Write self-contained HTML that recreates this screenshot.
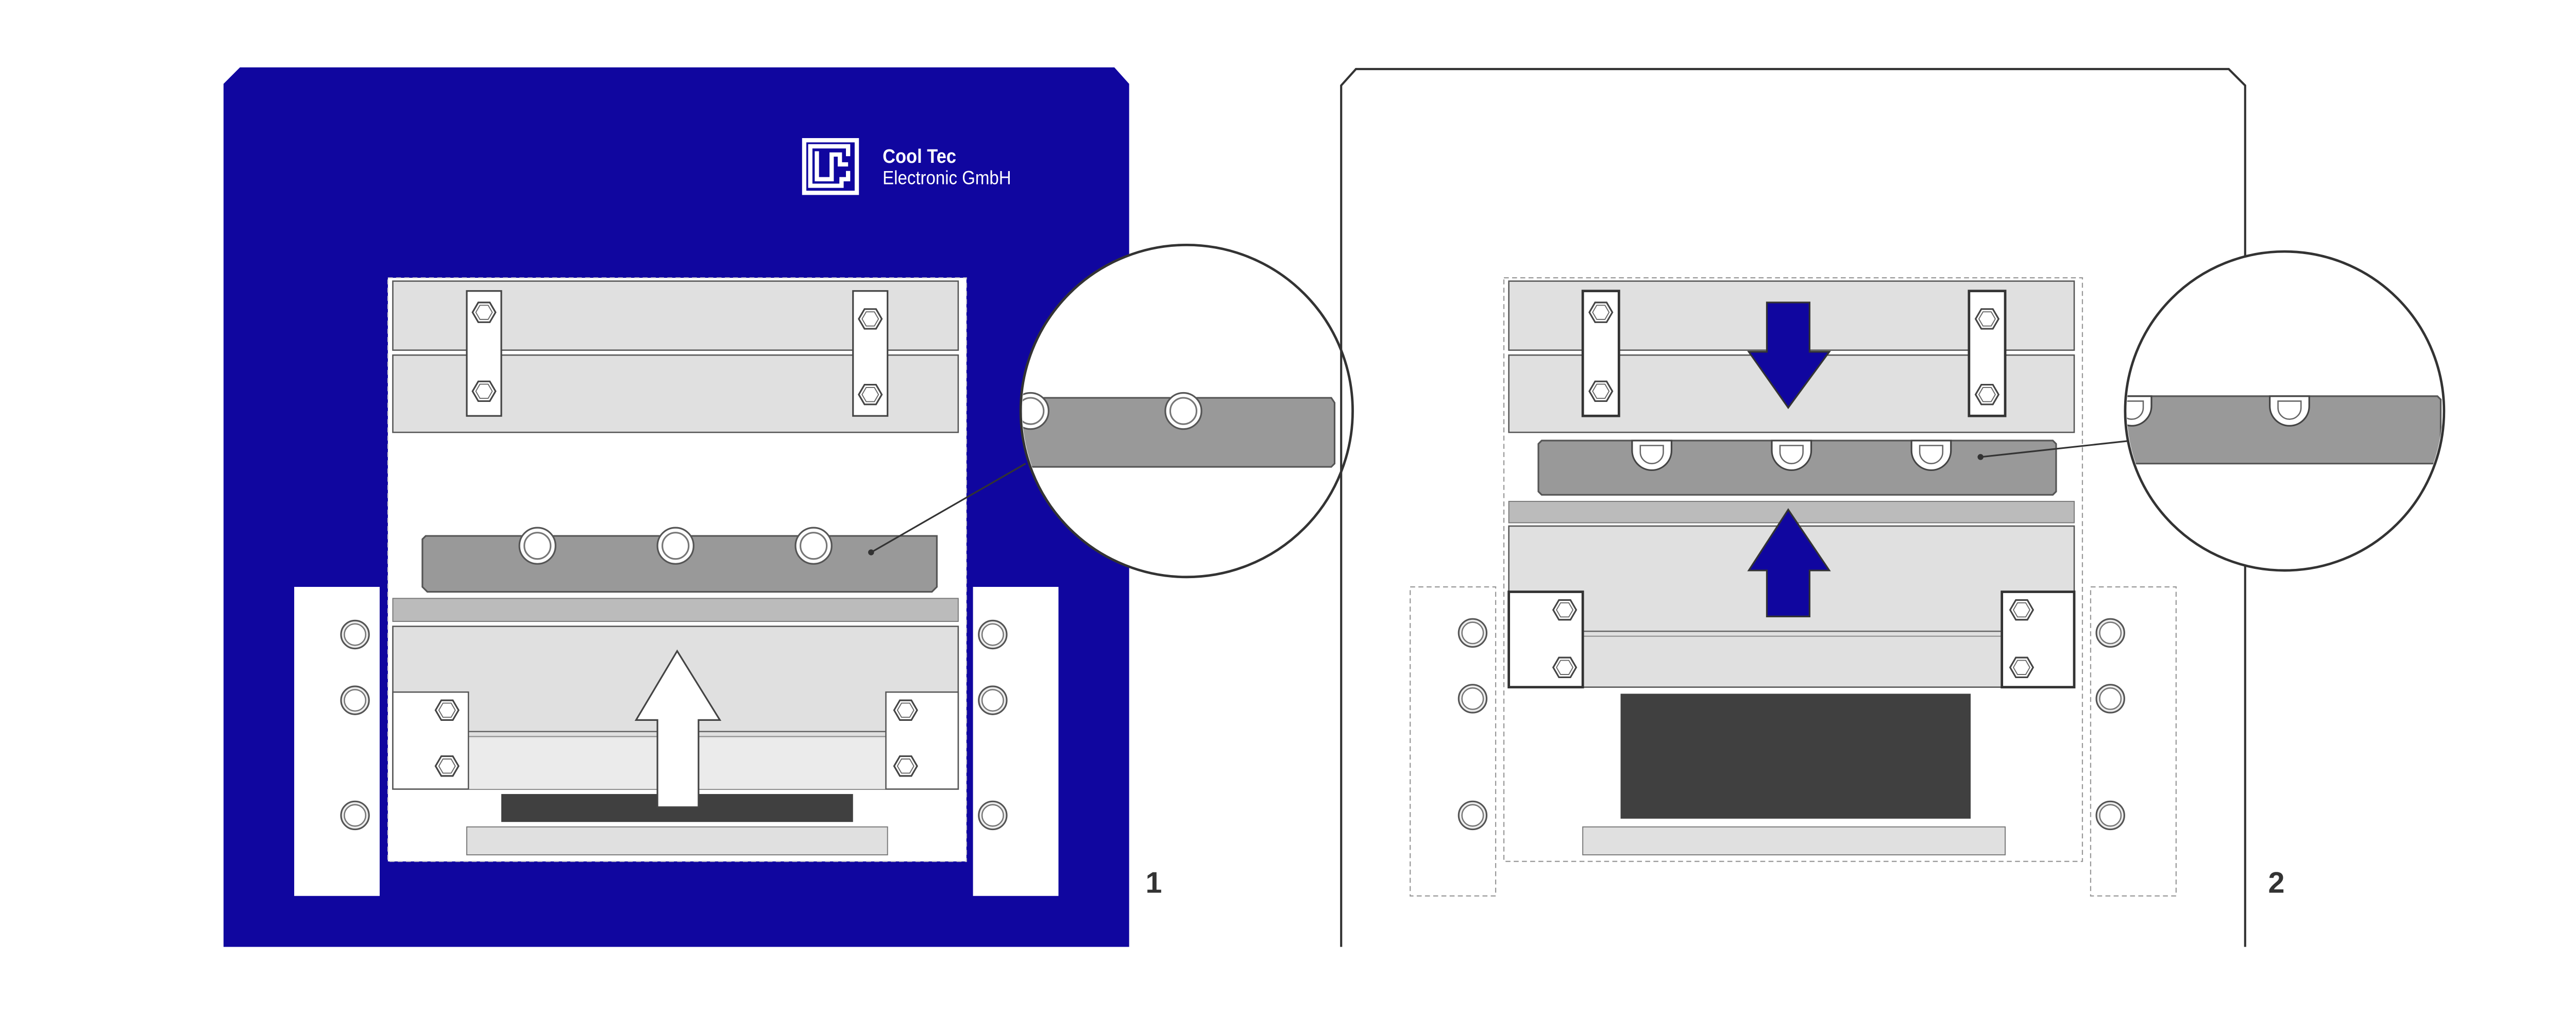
<!DOCTYPE html>
<html><head><meta charset="utf-8"><style>html,body{margin:0;padding:0;background:#fff}svg{display:block}</style></head>
<body>
<svg width="5200" height="1964" viewBox="0 0 1630 615.6" preserveAspectRatio="none" xmlns="http://www.w3.org/2000/svg">
<defs>
<g id="hex"><polygon points="-7,0 -3.5,-6 3.5,-6 7,0 3.5,6 -3.5,6" fill="#fff" stroke="#444" stroke-width="1"/><polygon points="-5,0 -2.5,-4.3 2.5,-4.3 5,0 2.5,4.3 -2.5,4.3" fill="none" stroke="#666" stroke-width="0.6"/></g>
<g id="nut"><circle r="8.5" fill="#eee" stroke="#555" stroke-width="1"/><circle r="6.5" fill="#fff" stroke="#777" stroke-width="0.8"/></g>
<g id="ring"><circle r="11" fill="#fff" stroke="#555" stroke-width="1"/><circle r="8" fill="#fff" stroke="#777" stroke-width="1"/></g>
<g id="ushape"><path d="M-12,0 v6 a12,12 0 0 0 24,0 v-6 z" fill="#fff" stroke="#444" stroke-width="1"/><path d="M-7,3 v4 a7,7 0 0 0 14,0 v-4 z" fill="none" stroke="#666" stroke-width="0.8"/></g>
</defs>

<!-- PANEL 1 -->
<path d="M146,41 L678,41 L687,51 L687,576 L136,576 L136,51 Z" fill="#10069f"/>
<!-- logo -->
<g fill="none" stroke="#fff" stroke-width="2.6">
<rect x="489.3" y="85.3" width="32" height="32"/>
<path d="M516,104 V109 H512 V113 H493 V89 H516 V95"/>
<path d="M497,92 V109 H506 V94 H511 V100 H516"/>
</g>
<text x="537" y="99" font-family="Liberation Sans, sans-serif" font-weight="bold" font-size="12" fill="#fff" transform="translate(537,0) scale(0.9,1) translate(-537,0)">Cool Tec</text>
<text x="537" y="112" font-family="Liberation Sans, sans-serif" font-size="11.5" fill="#fff" transform="translate(537,0) scale(0.9,1) translate(-537,0)">Electronic GmbH</text>

<rect x="236" y="169" width="352" height="355" fill="#fff" stroke="#ccc" stroke-width="0.6" stroke-dasharray="3,2"/>
<rect x="179" y="357" width="52" height="188" fill="#fff"/>
<rect x="592" y="357" width="52" height="188" fill="#fff"/>
<use href="#nut" x="216" y="386"/><use href="#nut" x="216" y="426"/><use href="#nut" x="216" y="496"/>
<use href="#nut" x="604" y="386"/><use href="#nut" x="604" y="426"/><use href="#nut" x="604" y="496"/>

<rect x="239" y="171" width="344" height="42" fill="#e0e0e0" stroke="#555" stroke-width="0.8"/>
<rect x="239" y="216" width="344" height="47" fill="#e0e0e0" stroke="#555" stroke-width="0.8"/>
<rect x="284" y="177" width="21" height="76" fill="#fff" stroke="#444" stroke-width="1"/>
<rect x="519" y="177" width="21" height="76" fill="#fff" stroke="#444" stroke-width="1"/>
<use href="#hex" x="294.5" y="190"/><use href="#hex" x="294.5" y="238"/>
<use href="#hex" x="529.5" y="194"/><use href="#hex" x="529.5" y="240"/>

<path d="M259,326 H570 V357 L567,360 H260 L257,357 V328 Z" fill="#999" stroke="#555" stroke-width="1"/>
<use href="#ring" x="327" y="332"/><use href="#ring" x="411" y="332"/><use href="#ring" x="495" y="332"/>
<line x1="530" y1="336" x2="624" y2="282" stroke="#333" stroke-width="1"/>
<circle cx="530" cy="336" r="1.8" fill="#333"/>

<rect x="239" y="364" width="344" height="14" fill="#bbb" stroke="#777" stroke-width="0.6"/>
<rect x="239" y="381" width="344" height="99" fill="#e0e0e0" stroke="#555" stroke-width="0.8"/>
<rect x="285" y="449" width="254" height="31" fill="#ebebeb"/>
<line x1="285" y1="445" x2="539" y2="445" stroke="#666" stroke-width="0.8"/>
<line x1="285" y1="448" x2="539" y2="448" stroke="#888" stroke-width="0.6"/>
<rect x="239" y="421" width="46" height="59" fill="#fff" stroke="#555" stroke-width="0.8"/>
<rect x="539" y="421" width="44" height="59" fill="#fff" stroke="#555" stroke-width="0.8"/>
<use href="#hex" x="272" y="432"/><use href="#hex" x="272" y="466"/>
<use href="#hex" x="551" y="432"/><use href="#hex" x="551" y="466"/>
<rect x="305" y="483" width="214" height="17" fill="#404040"/>
<path d="M400,491 V438 H387 L412,396 L438,438 H425 V491 Z" fill="#fff" stroke="#444" stroke-width="1"/>
<rect x="284" y="503" width="256" height="17" fill="#e0e0e0" stroke="#777" stroke-width="0.6"/>

<!-- circle 1 -->
<circle cx="722" cy="250" r="101" fill="#fff" stroke="#333" stroke-width="1.5"/>
<clipPath id="c1"><circle cx="722" cy="250" r="100"/></clipPath>
<g clip-path="url(#c1)">
<path d="M600,242 H810 L812,245 V282 L810,284 H600 Z" fill="#999" stroke="#555" stroke-width="1"/>
<use href="#ring" x="627" y="250"/>
<use href="#ring" x="720" y="250"/>
</g>
<text x="697" y="543" font-family="Liberation Sans, sans-serif" font-weight="bold" font-size="18" fill="#333">1</text>

<!-- PANEL 2 -->
<path d="M816,576 V52 L825,42 L1356,42 L1366,52 V576" fill="none" stroke="#333" stroke-width="1.3"/>
<rect x="915" y="169" width="352" height="355" fill="none" stroke="#999" stroke-width="0.7" stroke-dasharray="3,2"/>
<rect x="858" y="357" width="52" height="188" fill="none" stroke="#999" stroke-width="0.7" stroke-dasharray="3,2"/>
<rect x="1272" y="357" width="52" height="188" fill="none" stroke="#999" stroke-width="0.7" stroke-dasharray="3,2"/>
<use href="#nut" x="896" y="385"/><use href="#nut" x="896" y="425"/><use href="#nut" x="896" y="496"/>
<use href="#nut" x="1284" y="385"/><use href="#nut" x="1284" y="425"/><use href="#nut" x="1284" y="496"/>

<rect x="918" y="171" width="344" height="42" fill="#e0e0e0" stroke="#555" stroke-width="0.8"/>
<rect x="918" y="216" width="344" height="47" fill="#e0e0e0" stroke="#555" stroke-width="0.8"/>
<rect x="963" y="177" width="22" height="76" fill="#fff" stroke="#333" stroke-width="1.5"/>
<rect x="1198" y="177" width="22" height="76" fill="#fff" stroke="#333" stroke-width="1.5"/>
<use href="#hex" x="974" y="190"/><use href="#hex" x="974" y="238"/>
<use href="#hex" x="1209" y="194"/><use href="#hex" x="1209" y="240"/>
<path d="M1075,184 H1101 V214 H1113 L1088,248 L1064,214 H1075 Z" fill="#10069f" stroke="#333" stroke-width="1"/>

<path d="M938,268 H1249 L1251,270 V299 L1249,301 H938 L936,299 V270 Z" fill="#999" stroke="#555" stroke-width="1"/>
<use href="#ushape" x="1005" y="268"/><use href="#ushape" x="1090" y="268"/><use href="#ushape" x="1175" y="268"/>
<line x1="1205" y1="278" x2="1297" y2="268" stroke="#333" stroke-width="1"/>
<circle cx="1205" cy="278" r="1.8" fill="#333"/>

<rect x="918" y="305" width="344" height="13" fill="#bbb" stroke="#777" stroke-width="0.6"/>
<rect x="918" y="320" width="344" height="98" fill="#e0e0e0" stroke="#555" stroke-width="0.8"/>
<line x1="963" y1="384" x2="1218" y2="384" stroke="#666" stroke-width="0.8"/>
<line x1="963" y1="387" x2="1218" y2="387" stroke="#888" stroke-width="0.6"/>
<rect x="918" y="360" width="45" height="58" fill="#fff" stroke="#333" stroke-width="1.5"/>
<rect x="1218" y="360" width="44" height="58" fill="#fff" stroke="#333" stroke-width="1.5"/>
<use href="#hex" x="952" y="371"/><use href="#hex" x="952" y="406"/>
<use href="#hex" x="1230" y="371"/><use href="#hex" x="1230" y="406"/>
<path d="M1075,375 V347 H1064 L1088,310 L1113,347 H1101 V375 Z" fill="#10069f" stroke="#333" stroke-width="1"/>
<rect x="986" y="422" width="213" height="76" fill="#404040"/>
<rect x="963" y="503" width="257" height="17" fill="#e0e0e0" stroke="#777" stroke-width="0.6"/>

<!-- circle 2 -->
<circle cx="1390" cy="250" r="97" fill="#fff" stroke="#333" stroke-width="1.5"/>
<clipPath id="c2"><circle cx="1390" cy="250" r="96"/></clipPath>
<g clip-path="url(#c2)">
<path d="M1280,241 H1483 L1485,243 V280 L1483,282 H1280 Z" fill="#999" stroke="#555" stroke-width="1"/>
<use href="#ushape" x="1297" y="241"/>
<use href="#ushape" x="1393" y="241"/>
</g>
<text x="1380" y="543" font-family="Liberation Sans, sans-serif" font-weight="bold" font-size="18" fill="#333">2</text>
</svg>
</body></html>
